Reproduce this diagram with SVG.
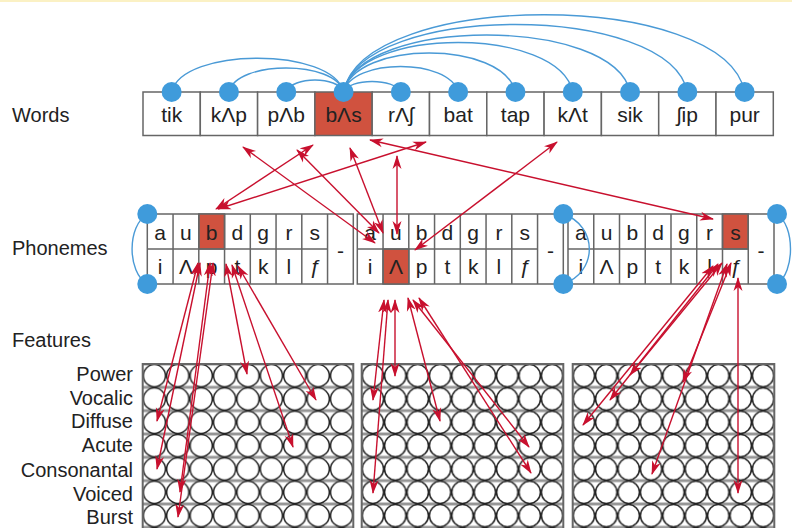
<svg xmlns="http://www.w3.org/2000/svg" width="792" height="528" viewBox="0 0 792 528">
<style>
.lbl{font-family:"Liberation Sans",Arial,sans-serif;font-size:20px;fill:#222}
.flbl{font-family:"Liberation Sans",Arial,sans-serif;font-size:20px;fill:#222;text-anchor:end}
.wt{font-family:"Liberation Sans",Arial,sans-serif;font-size:21px;fill:#222;text-anchor:middle}
.pt{font-family:"Liberation Sans",Arial,sans-serif;font-size:21px;fill:#222;text-anchor:middle}
.box{fill:#fff;stroke:#666;stroke-width:1.5}
.hl{fill:#d0523f;stroke:#666;stroke-width:1.5}
.gl{stroke:#666;stroke-width:1.5;fill:none}
.dot{fill:#3f9bdb}
.blue{fill:none;stroke:#4a9ad6;stroke-width:1.4}
.red{stroke:#c8102e;stroke-width:1.4;fill:none;marker-start:url(#ah);marker-end:url(#ah)}
.gframe{fill:none;stroke:#666;stroke-width:2}
</style>
<defs>
<marker id="ah" viewBox="0 0 14 10" refX="13" refY="5" markerWidth="14" markerHeight="10" markerUnits="userSpaceOnUse" orient="auto-start-reverse">
<path d="M0,0.5 L14,5 L0,9.5 L4,5 z" fill="#c8102e"/>
</marker>
<pattern id="g1" patternUnits="userSpaceOnUse" x="142.7" y="364" width="23.4" height="23.33">
<rect width="23.4" height="23.33" fill="#fff"/>
<line x1="0" y1="0.8" x2="23.4" y2="0.8" stroke="#666" stroke-width="1"/>
<line x1="0" y1="22.53" x2="23.4" y2="22.53" stroke="#666" stroke-width="1"/>
<circle cx="11.7" cy="11.665" r="11.1" fill="#fff" stroke="#222" stroke-width="1.5"/>
</pattern>
<pattern id="g2" patternUnits="userSpaceOnUse" x="361.7" y="364" width="22.4" height="23.33">
<rect width="22.4" height="23.33" fill="#fff"/>
<line x1="0" y1="0.8" x2="22.4" y2="0.8" stroke="#666" stroke-width="1"/>
<line x1="0" y1="22.53" x2="22.4" y2="22.53" stroke="#666" stroke-width="1"/>
<ellipse cx="11.2" cy="11.665" rx="10.7" ry="11.1" fill="#fff" stroke="#222" stroke-width="1.5"/>
</pattern>
<pattern id="g3" patternUnits="userSpaceOnUse" x="572.7" y="364" width="22.4" height="23.33">
<rect width="22.4" height="23.33" fill="#fff"/>
<line x1="0" y1="0.8" x2="22.4" y2="0.8" stroke="#666" stroke-width="1"/>
<line x1="0" y1="22.53" x2="22.4" y2="22.53" stroke="#666" stroke-width="1"/>
<ellipse cx="11.2" cy="11.665" rx="10.7" ry="11.1" fill="#fff" stroke="#222" stroke-width="1.5"/>
</pattern>
</defs>
<rect x="0" y="0" width="792" height="528" fill="#fff"/>
<rect x="0" y="0" width="792" height="2" fill="#fbf1c4"/>

<g id="labels">
<text class="lbl" x="12" y="122">Words</text>
<text class="lbl" x="12" y="255">Phonemes</text>
<text class="lbl" x="12" y="347">Features</text>
<text class="flbl" x="133" y="381">Power</text>
<text class="flbl" x="133" y="405">Vocalic</text>
<text class="flbl" x="133" y="428">Diffuse</text>
<text class="flbl" x="133" y="452">Acute</text>
<text class="flbl" x="133" y="477">Consonantal</text>
<text class="flbl" x="133" y="501">Voiced</text>
<text class="flbl" x="133" y="524">Burst</text>
</g>

<g id="words">
<g id="w-tik"><rect class="box" x="143" y="92" width="57.3" height="43.5"/><text class="wt" x="171.65" y="121.5">tik</text></g>
<g id="w-kap"><rect class="box" x="200.3" y="92" width="57.3" height="43.5"/><text class="wt" x="228.95" y="121.5">kΛp</text></g>
<g id="w-pab"><rect class="box" x="257.6" y="92" width="57.3" height="43.5"/><text class="wt" x="286.25" y="121.5">pΛb</text></g>
<g id="w-bas"><rect class="hl" x="314.9" y="92" width="57.3" height="43.5"/><text class="wt" x="343.55" y="121.5">bΛs</text></g>
<g id="w-rash"><rect class="box" x="372.2" y="92" width="57.3" height="43.5"/><text class="wt" x="400.85" y="121.5">rΛʃ</text></g>
<g id="w-bat"><rect class="box" x="429.5" y="92" width="57.3" height="43.5"/><text class="wt" x="458.15" y="121.5">bat</text></g>
<g id="w-tap"><rect class="box" x="486.8" y="92" width="57.3" height="43.5"/><text class="wt" x="515.45" y="121.5">tap</text></g>
<g id="w-kat"><rect class="box" x="544.1" y="92" width="57.3" height="43.5"/><text class="wt" x="572.75" y="121.5">kΛt</text></g>
<g id="w-sik"><rect class="box" x="601.4" y="92" width="57.3" height="43.5"/><text class="wt" x="630.05" y="121.5">sik</text></g>
<g id="w-ship"><rect class="box" x="658.7" y="92" width="57.3" height="43.5"/><text class="wt" x="687.35" y="121.5">ʃip</text></g>
<g id="w-pur"><rect class="box" x="716" y="92" width="57.3" height="43.5"/><text class="wt" x="744.65" y="121.5">pur</text></g>
</g>

<g id="word-links">
<path class="blue" d="M343.55,92 C333,47 182,47 171.65,92"/>
<path class="blue" d="M343.55,92 C336,60 236,60 228.95,92"/>
<path class="blue" d="M343.55,92 C338,76 292,76 286.25,92"/>
<path class="blue" d="M343.55,92 C349,78 395,78 400.85,92"/>
<path class="blue" d="M343.55,92 C352,58 449,58 458.15,92"/>
<path class="blue" d="M343.55,92 C355,40 503,40 515.45,92"/>
<path class="blue" d="M343.55,92 C357,26 559,26 572.75,92"/>
<path class="blue" d="M343.55,92 C359,16 614,16 630.05,92"/>
<path class="blue" d="M343.55,92 C361,2 669,2 687.35,92"/>
<path class="blue" d="M343.55,92 C363,-11 725,-11 744.65,92"/>
</g>
<g id="word-dots">
<circle class="dot" cx="171.65" cy="92" r="10"/>
<circle class="dot" cx="228.95" cy="92" r="10"/>
<circle class="dot" cx="286.25" cy="92" r="10"/>
<circle class="dot" cx="343.55" cy="92" r="10"/>
<circle class="dot" cx="400.85" cy="92" r="10"/>
<circle class="dot" cx="458.15" cy="92" r="10"/>
<circle class="dot" cx="515.45" cy="92" r="10"/>
<circle class="dot" cx="572.75" cy="92" r="10"/>
<circle class="dot" cx="630.05" cy="92" r="10"/>
<circle class="dot" cx="687.35" cy="92" r="10"/>
<circle class="dot" cx="744.65" cy="92" r="10"/>
</g>

<g id="phon-block-1">
<rect class="box" x="147.3" y="214" width="206" height="70"/>
<rect class="hl" x="198.8" y="214" width="25.75" height="35"/>
<path class="gl" d="M173.05,214V284M198.8,214V284M224.55,214V284M250.3,214V284M276.05,214V284M301.8,214V284M327.55,214V284M147.3,249H327.55"/>
<text class="pt" x="160.2" y="240">a</text><text class="pt" x="185.9" y="240">u</text><text class="pt" x="211.7" y="240">b</text><text class="pt" x="237.4" y="240">d</text><text class="pt" x="263.2" y="240">g</text><text class="pt" x="288.9" y="240">r</text><text class="pt" x="314.7" y="240">s</text>
<text class="pt" x="160.2" y="274">i</text><text class="pt" x="185.9" y="274">Λ</text><text class="pt" x="211.7" y="274">p</text><text class="pt" x="237.4" y="274">t</text><text class="pt" x="263.2" y="274">k</text><text class="pt" x="288.9" y="274">l</text><text class="pt" x="314.7" y="274" font-style="italic" font-family="Liberation Serif,serif">ƒ</text>
<text class="pt" x="340.4" y="258">-</text>
</g>
<g id="phon-block-2">
<rect class="box" x="357.3" y="214" width="206" height="70"/>
<rect class="hl" x="383.05" y="249" width="25.75" height="35"/>
<path class="gl" d="M383.05,214V284M408.8,214V284M434.55,214V284M460.3,214V284M486.05,214V284M511.8,214V284M537.55,214V284M357.3,249H537.55"/>
<text class="pt" x="370.2" y="240">a</text><text class="pt" x="395.9" y="240">u</text><text class="pt" x="421.7" y="240">b</text><text class="pt" x="447.4" y="240">d</text><text class="pt" x="473.2" y="240">g</text><text class="pt" x="498.9" y="240">r</text><text class="pt" x="524.7" y="240">s</text>
<text class="pt" x="370.2" y="274">i</text><text class="pt" x="395.9" y="274">Λ</text><text class="pt" x="421.7" y="274">p</text><text class="pt" x="447.4" y="274">t</text><text class="pt" x="473.2" y="274">k</text><text class="pt" x="498.9" y="274">l</text><text class="pt" x="524.7" y="274" font-style="italic" font-family="Liberation Serif,serif">ƒ</text>
<text class="pt" x="550.4" y="258">-</text>
</g>
<g id="phon-block-3">
<rect class="box" x="568" y="214" width="206" height="70"/>
<rect class="hl" x="722.5" y="214" width="25.75" height="35"/>
<path class="gl" d="M593.75,214V284M619.5,214V284M645.25,214V284M671,214V284M696.75,214V284M722.5,214V284M748.25,214V284M568,249H748.25"/>
<text class="pt" x="580.9" y="240">a</text><text class="pt" x="606.6" y="240">u</text><text class="pt" x="632.4" y="240">b</text><text class="pt" x="658.1" y="240">d</text><text class="pt" x="683.9" y="240">g</text><text class="pt" x="709.6" y="240">r</text><text class="pt" x="735.4" y="240">s</text>
<text class="pt" x="580.9" y="274">i</text><text class="pt" x="606.6" y="274">Λ</text><text class="pt" x="632.4" y="274">p</text><text class="pt" x="658.1" y="274">t</text><text class="pt" x="683.9" y="274">k</text><text class="pt" x="709.6" y="274">l</text><text class="pt" x="735.4" y="274" font-style="italic" font-family="Liberation Serif,serif">ƒ</text>
<text class="pt" x="761.1" y="258">-</text>
</g>
<g id="phon-links">
<path class="blue" d="M147.3,214 C127,226 127,272 147.3,284"/>
<path class="blue" d="M563.3,214 C598,226 598,272 563.3,284"/>
<path class="blue" d="M777,214 C795,226 795,272 777,284"/>
<circle class="dot" cx="147.3" cy="214" r="10"/>
<circle class="dot" cx="147.3" cy="284" r="10"/>
<circle class="dot" cx="563.3" cy="214" r="10"/>
<circle class="dot" cx="563.3" cy="284" r="10"/>
<circle class="dot" cx="777" cy="214" r="10"/>
<circle class="dot" cx="777" cy="284" r="10"/>
</g>

<g id="feature-grid-1">
<rect x="142.7" y="364" width="210.6" height="164" fill="url(#g1)"/>
<path class="gframe" d="M142.7,528V364H353.3V528"/>
</g>
<g id="feature-grid-2">
<rect x="361.7" y="364" width="201.6" height="164" fill="url(#g2)"/>
<path class="gframe" d="M361.7,528V364H563.3V528"/>
</g>
<g id="feature-grid-3">
<rect x="572.7" y="364" width="201.6" height="164" fill="url(#g3)"/>
<path class="gframe" d="M572.7,528V364H774.3V528"/>
</g>

<g id="connectors">
<line class="red" x1="375" y1="243" x2="243" y2="147"/>
<line class="red" x1="379" y1="233" x2="297" y2="150"/>
<line class="red" x1="383" y1="233" x2="350" y2="148"/>
<line class="red" x1="397" y1="234" x2="397" y2="156"/>
<line class="red" x1="415" y1="250" x2="557" y2="142"/>
<line class="red" x1="216" y1="209" x2="313" y2="145"/>
<line class="red" x1="218" y1="209" x2="426" y2="142"/>
<line class="red" x1="713" y1="219" x2="370" y2="140"/>

<line class="red" x1="198" y1="263" x2="157" y2="421"/>
<line class="red" x1="200" y1="263" x2="157" y2="469"/>
<line class="red" x1="210" y1="263" x2="180" y2="492"/>
<line class="red" x1="213" y1="263" x2="178" y2="517"/>
<line class="red" x1="226" y1="264" x2="247" y2="374"/>
<line class="red" x1="232" y1="265" x2="293" y2="447"/>
<line class="red" x1="238" y1="266" x2="316" y2="400"/>

<line class="red" x1="384" y1="300" x2="373" y2="400"/>
<line class="red" x1="395" y1="300" x2="395" y2="376"/>
<line class="red" x1="388" y1="300" x2="373" y2="493"/>
<line class="red" x1="408" y1="298" x2="440" y2="421"/>
<line class="red" x1="413" y1="300" x2="529" y2="447"/>
<line class="red" x1="419" y1="298" x2="531" y2="473"/>

<line class="red" x1="713" y1="266" x2="583" y2="425"/>
<line class="red" x1="718" y1="264" x2="610" y2="400"/>
<line class="red" x1="722" y1="263" x2="630" y2="375"/>
<line class="red" x1="731" y1="263" x2="683" y2="382"/>
<line class="red" x1="727" y1="264" x2="652" y2="474"/>
<line class="red" x1="738" y1="278" x2="738" y2="493"/>
</g>
</svg>
